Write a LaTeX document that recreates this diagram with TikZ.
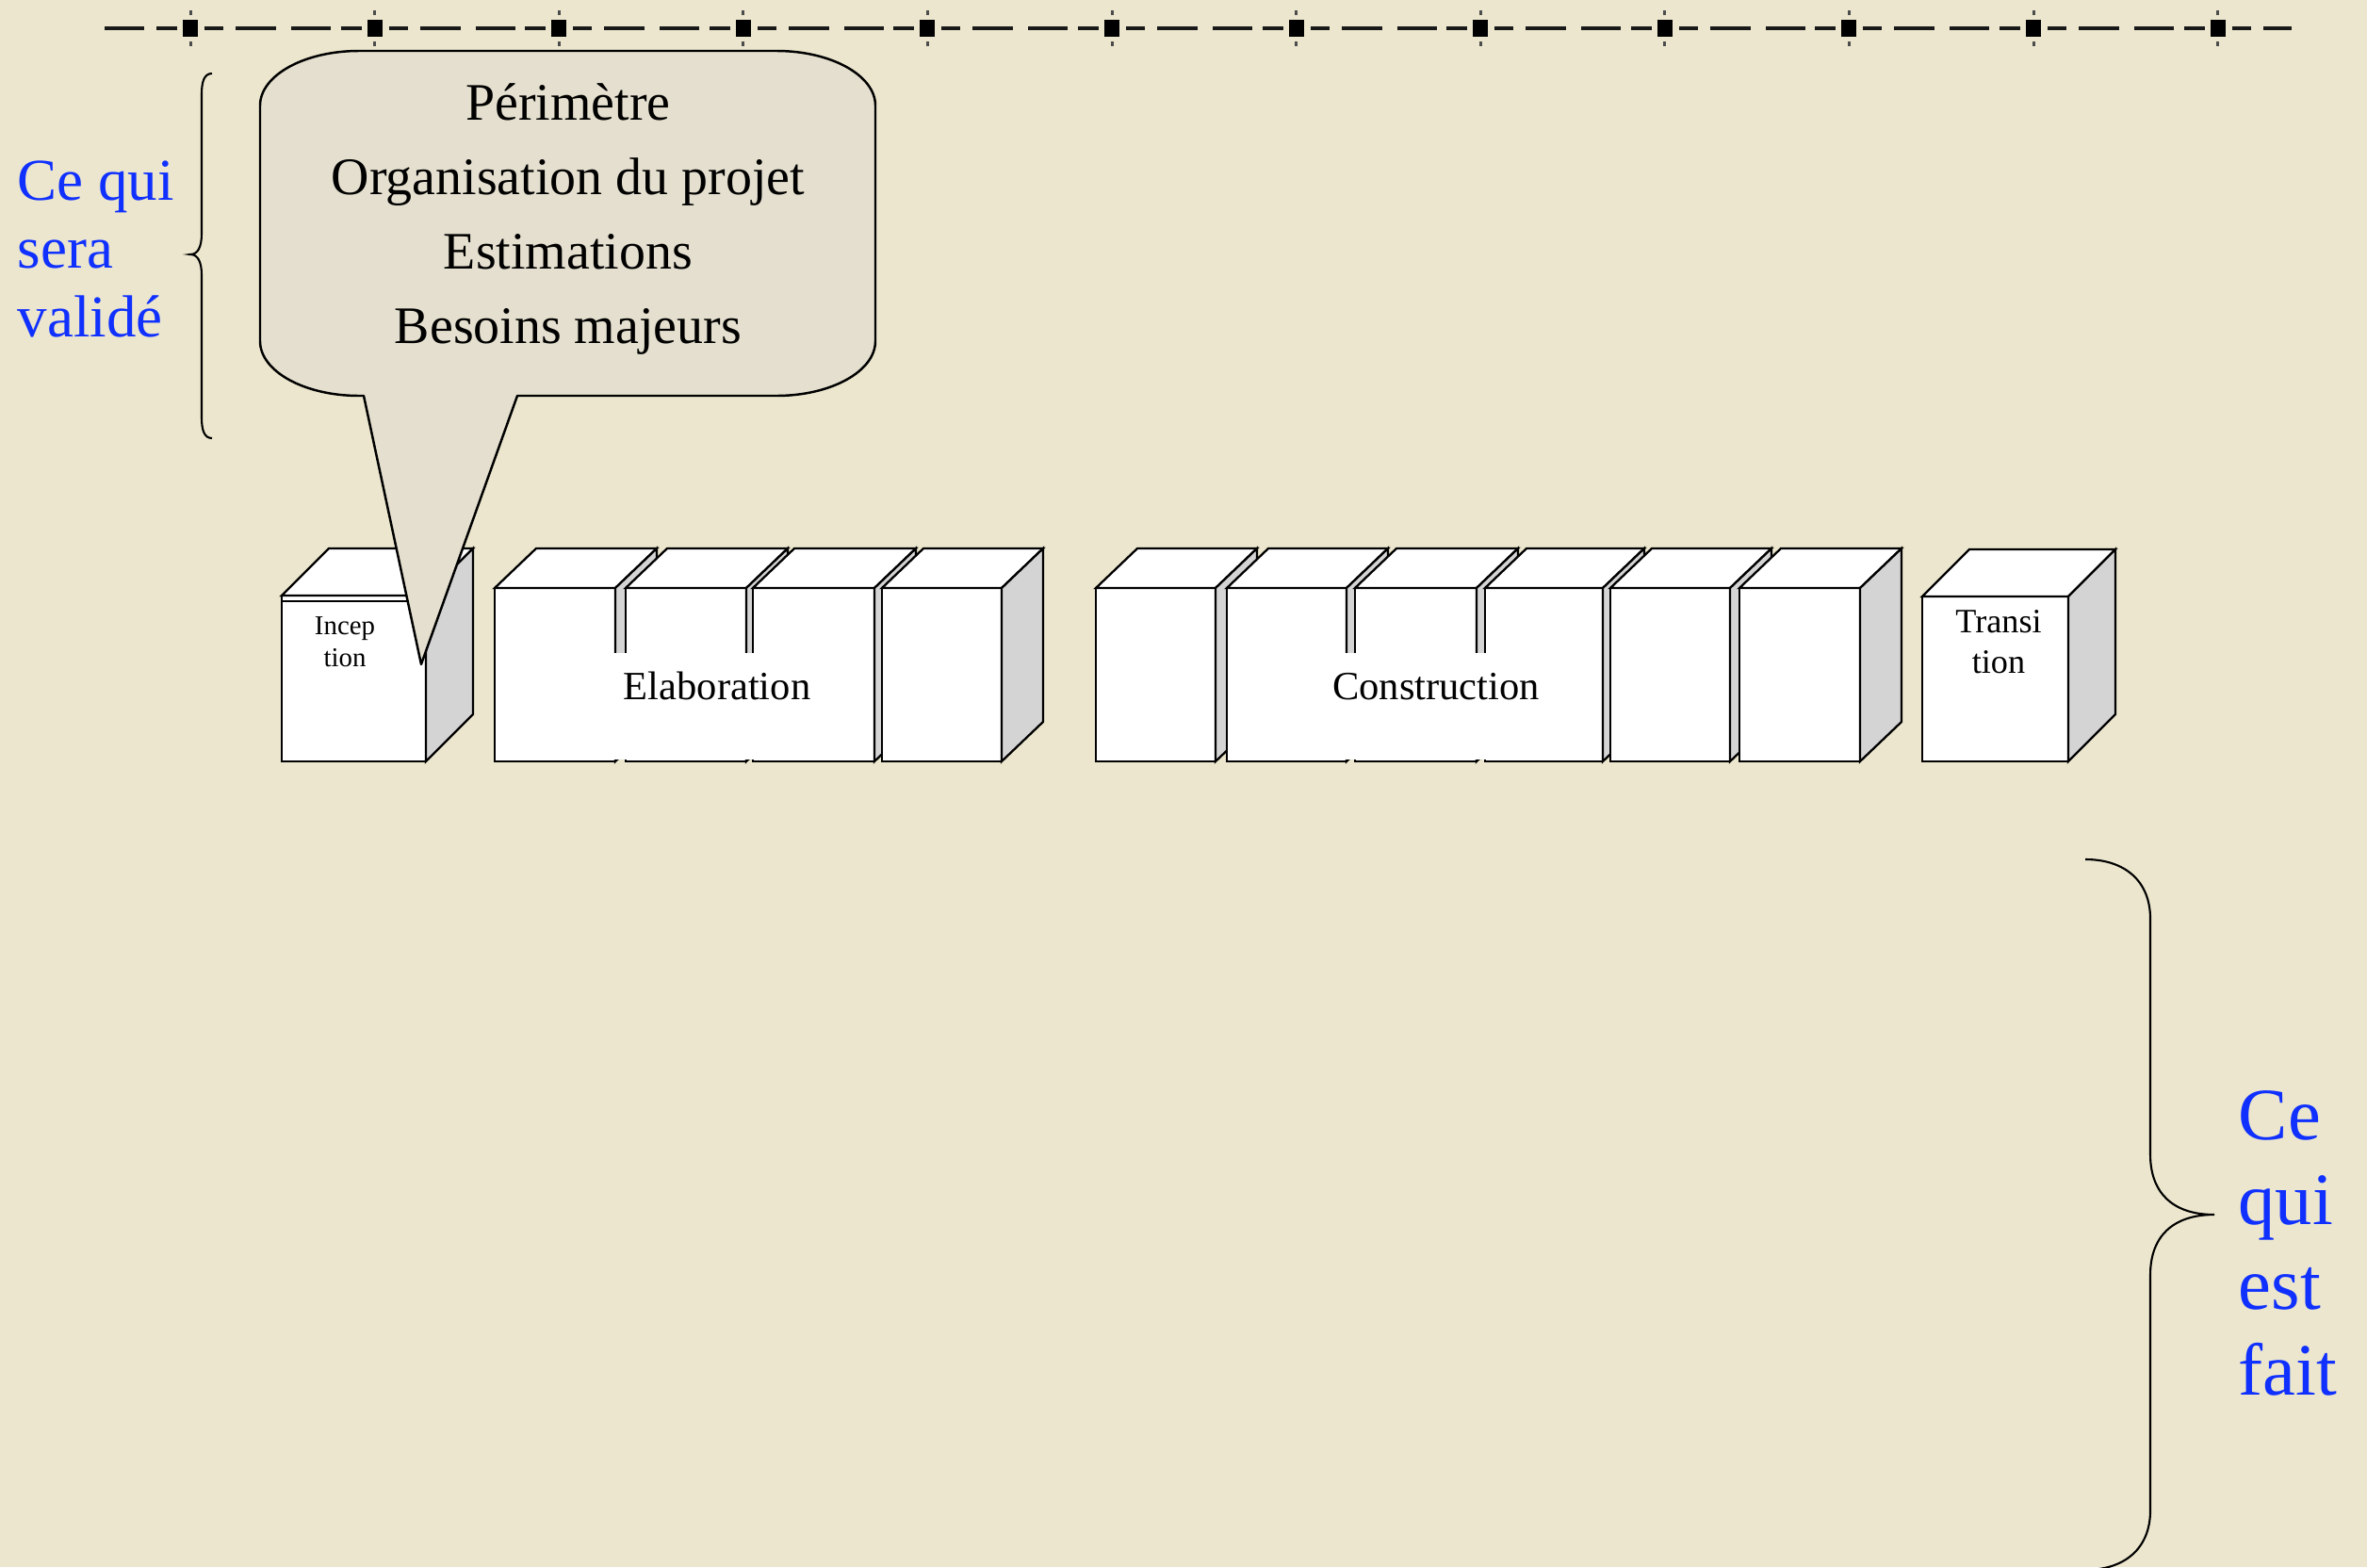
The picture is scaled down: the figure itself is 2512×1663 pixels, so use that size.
\documentclass[tikz,border=0pt]{standalone}
\usepackage{fontspec}
\setmainfont{Liberation Serif}
\definecolor{bgbeige}{RGB}{235,230,205}
\definecolor{callfill}{RGB}{228,223,206}
\definecolor{sidegray}{RGB}{212,212,212}
\definecolor{bluetxt}{RGB}{16,48,255}
\tikzset{
  boxline/.style={draw=black, line width=0.65pt, line join=miter},
  dashseg/.style={draw=black!90, line width=1.25pt},
  marker/.style={fill=black},
  tickdot/.style={fill=black!70},
  callshape/.style={draw=black, line width=0.7pt, fill=callfill, line join=round},
  bracel/.style={draw=black, line width=0.6pt},
  calltext/.style={align=center, inner sep=0pt, font=\fontsize{15.9}{22.4}\selectfont},
  bluetext/.style={align=left, inner sep=0pt, text=bluetxt},
  bigboxlabel/.style={inner sep=0pt, font=\fontsize{12.1}{14}\selectfont},
  smallboxlabel/.style={align=center, inner sep=0pt},
  labelcover/.style={fill=white}
}
% x1 x2 ytop dx dy
\newcommand{\drawblk}[5]{%
  \filldraw[boxline, fill=white] (#1,#3) rectangle (#2,808);
  \filldraw[boxline, fill=white] (#1,#3) -- ({#1+#4},{#3-#5}) -- ({#2+#4},{#3-#5}) -- (#2,#3) -- cycle;
  \filldraw[boxline, fill=sidegray] (#2,#3) -- ({#2+#4},{#3-#5}) -- ({#2+#4},{808-#5}) -- (#2,808) -- cycle;
}
\begin{document}
\begin{tikzpicture}[x=0.01cm, y=-0.01cm]
\fill[bgbeige] (0,0) rectangle (2512,1663);
\useasboundingbox (0,0) rectangle (2512,1663);

% top dashed time line
\draw[dashseg] (111,30) -- (153,30);
\foreach \i in {0,...,11}{
  \pgfmathsetmacro\m{202+195.6*\i}
  \draw[dashseg] (\m-36,30) -- (\m-14,30);
  \draw[dashseg] (\m+15,30) -- (\m+35,30);
  \ifnum\i<11
    \draw[dashseg] (\m+48,30) -- (\m+91,30);
    \draw[dashseg] (\m+107,30) -- (\m+149,30);
  \else
    \draw[dashseg] (\m+48,30) -- (\m+78,30);
  \fi
  \fill[marker] (\m-8,21) rectangle (\m+8,39);
  \fill[tickdot] (\m-1.5,11) rectangle (\m+1.5,16);
  \fill[tickdot] (\m-1.5,44) rectangle (\m+1.5,49);
}

% Inception block
\drawblk{299}{452}{632}{50}{50}
\draw[boxline] (299,638) -- (452,638);

% Elaboration blocks
\drawblk{525}{653}{624}{44}{42}
\drawblk{664}{792}{624}{44}{42}
\drawblk{799}{928}{624}{44}{42}
\drawblk{936}{1063}{624}{44}{42}
\fill[labelcover] (530,693) rectangle (924,806);

% Construction blocks
\drawblk{1163}{1290}{624}{44}{42}
\drawblk{1302}{1429}{624}{44}{42}
\drawblk{1438}{1567}{624}{44}{42}
\drawblk{1576}{1701}{624}{44}{42}
\drawblk{1709}{1836}{624}{44}{42}
\drawblk{1846}{1974}{624}{44}{42}
\fill[labelcover] (1305,693) rectangle (1698,806);

% Transition block
\drawblk{2040}{2195}{633}{50}{50}

% labels of blocks (anchor = baseline of last line)
\node[smallboxlabel, anchor=base, font=\fontsize{8.2}{9.6}\selectfont] (incep) at (366,707) {Incep\\tion};
\node[bigboxlabel, anchor=base] (elab) at (761,742) {Elaboration};
\node[bigboxlabel, anchor=base] (constr) at (1524,742) {Construction};
\node[smallboxlabel, anchor=base, font=\fontsize{10.3}{12}\selectfont] (trans) at (2121,714) {Transi\\tion};

% callout
\path[callshape] (447,705) -- (386,420) -- (381,420)
  .. controls (323,420) and (276,394) .. (276,362) -- (276,112)
  .. controls (276,80) and (323,54) .. (381,54) -- (824,54)
  .. controls (882,54) and (929,80) .. (929,112) -- (929,362)
  .. controls (929,394) and (882,420) .. (824,420) -- (549,420) -- cycle;
\node[calltext, anchor=base] (calltxt) at (603,364) {Périmètre\\Organisation du projet\\Estimations\\Besoins majeurs};

% left brace and text
\draw[bracel] (225,78) .. controls (217,78) and (214,86) .. (214,100) -- (214,248)
  .. controls (214,262) and (210,270) .. (202,270)
  .. controls (210,270) and (214,278) .. (214,292) -- (214,443)
  .. controls (214,457) and (217,465) .. (225,465);
\node[bluetext, anchor=base west, font=\fontsize{17.9}{20.5}\selectfont] (valide) at (18,357) {Ce qui\\sera\\validé};

% right brace and text
\draw[bracel] (2213,912) .. controls (2255,912) and (2282,935) .. (2282,975) -- (2282,1225)
  .. controls (2282,1265) and (2305,1289) .. (2350,1289)
  .. controls (2305,1289) and (2282,1313) .. (2282,1353) -- (2282,1603)
  .. controls (2282,1643) and (2255,1666) .. (2213,1666);
\node[bluetext, anchor=base west, font=\fontsize{22.3}{25.6}\selectfont] (fait) at (2375,1480) {Ce\\qui\\est\\fait};
\end{tikzpicture}
\end{document}
